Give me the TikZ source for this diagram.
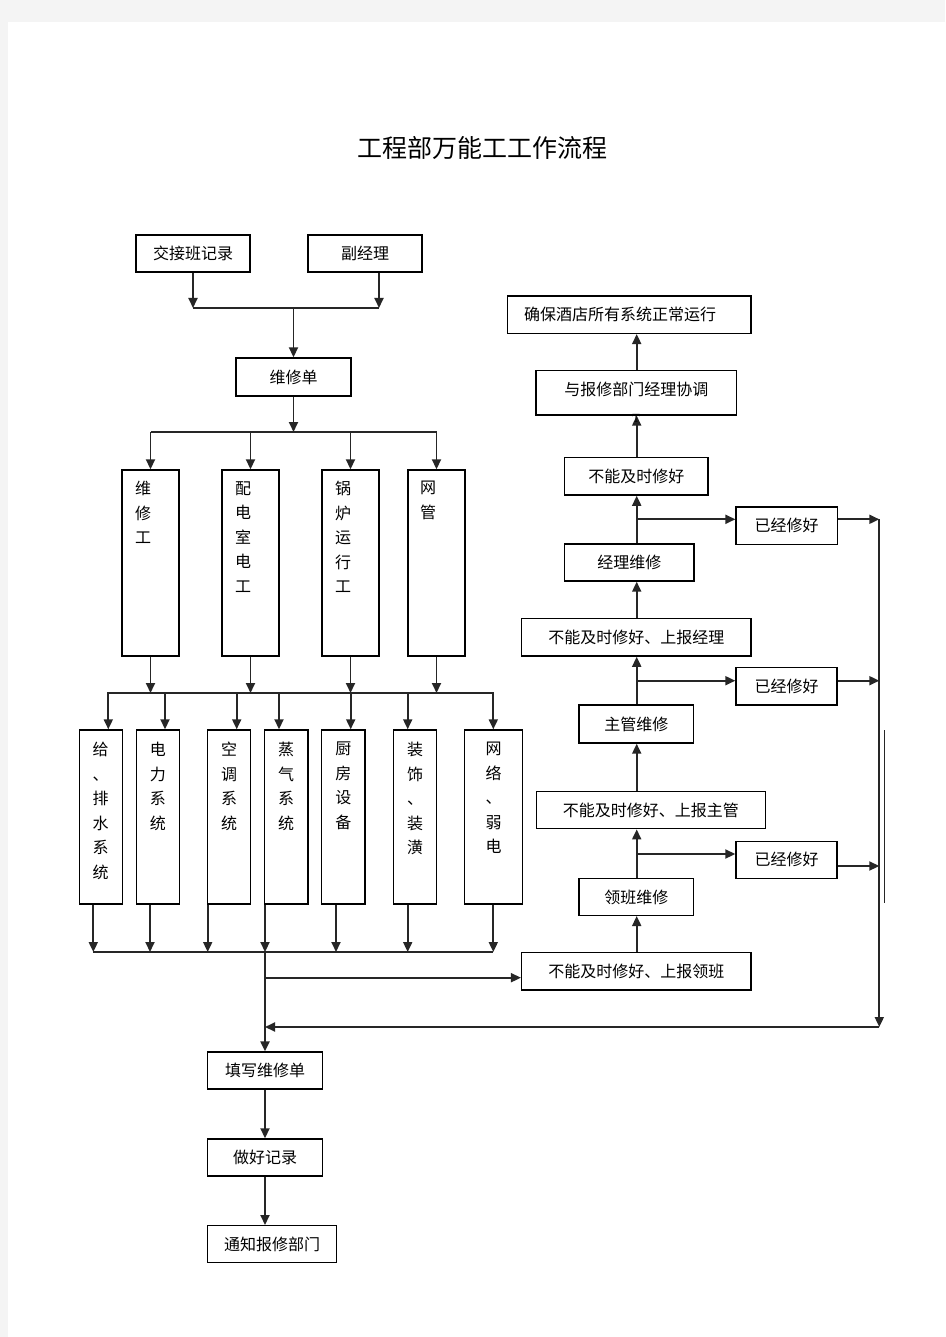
\documentclass[tikz,border=0pt]{standalone}
\usepackage{fontspec}
\newfontfamily\cjk{Noto Sans CJK SC}
\usetikzlibrary{arrows.meta,calc}
\definecolor{bg}{HTML}{F4F4F4}
\begin{document}
\begin{tikzpicture}[x=1pt,y=-1pt,
  box/.style={draw, line width=1.4pt, inner sep=0pt, font=\cjk\fontsize{16}{19}\selectfont},
  vtext/.style={font=\cjk\fontsize{16}{24.5}\selectfont, align=center, inner sep=0pt, anchor=north},
  conn/.style={line width=1.8pt, draw=black!85},
  arr/.style={conn, -{Triangle[length=10pt,width=9pt]}},
  thin/.style={line width=1pt, draw=black!85}]
\useasboundingbox (0,0) rectangle (945,1337);
\fill[bg] (0,0) rectangle (945,1337);
\fill[white] (8,22) rectangle (945,1337);

% title
\node[font=\cjk\fontsize{25}{28}\selectfont] (title) at (482,148) {工程部万能工工作流程};

% top boxes
\node[box, minimum width=114pt, minimum height=37pt] (jjb) at (193,253.5) {交接班记录};
\node[box, minimum width=114pt, minimum height=37pt] (fjl) at (365,253.5) {副经理};
\node[box, minimum width=115pt, minimum height=38pt] (wxd) at (293.5,377) {维修单};

\coordinate (j1) at (193,308);
\coordinate (j2) at (379,308);
\coordinate (j0) at (293.5,308);
\draw[arr] (jjb.south) -- (j1);
\draw[arr] (fjl.south -| j2) -- (j2);
\draw[conn] (j1) -- (j2);
\draw[arr] (j0) -- (wxd.north);

% worker boxes
\node[box, minimum width=57pt, minimum height=186pt] (v1) at (150.5,563) {};
\node[box, minimum width=57pt, minimum height=186pt] (v2) at (250.5,563) {};
\node[box, minimum width=57pt, minimum height=186pt] (v3) at (350.5,563) {};
\node[box, minimum width=57pt, minimum height=186pt] (v4) at (436.5,563) {};
\node[vtext] (t1) at (143,481) {维\\修\\工};
\node[vtext] (t2) at (243,481) {配\\电\\室\\电\\工};
\node[vtext] (t3) at (343,481) {锅\\炉\\运\\行\\工};
\node[vtext] (t4) at (428,481) {网\\管};

\coordinate (k0) at (293.5,432);
\draw[arr] (wxd.south) -- (k0);
\draw[conn] (v1.north |- k0) -- (v4.north |- k0);
\foreach \v in {v1,v2,v3,v4} \draw[arr] (\v.north |- k0) -- (\v.north);

% system boxes
\node[box, minimum width=43pt, minimum height=174pt] (b1) at (100.8,817) {};
\node[box, minimum width=43pt, minimum height=174pt] (b2) at (157.8,817) {};
\node[box, minimum width=43pt, minimum height=174pt] (b3) at (229.2,817) {};
\node[box, minimum width=43.3pt, minimum height=174pt] (b4) at (286.3,817) {};
\node[box, minimum width=43.3pt, minimum height=174pt] (b5) at (343.3,817) {};
\node[box, minimum width=43.4pt, minimum height=174pt] (b6) at (415,817) {};
\node[box, minimum width=57.6pt, minimum height=174pt] (b7) at (493.5,817) {};
\node[vtext] (s1) at (100.5,742) {给\\、\\排\\水\\系\\统};
\node[vtext] (s2) at (157.8,742) {电\\力\\系\\统};
\node[vtext] (s3) at (229.2,742) {空\\调\\系\\统};
\node[vtext] (s4) at (286,742) {蒸\\气\\系\\统};
\node[vtext] (s5) at (343.3,742) {厨\\房\\设\\备};
\node[vtext] (s6) at (415,742) {装\\饰\\、\\装\\潢};
\node[vtext] (s7) at (493.5,742) {网\\络\\、\\弱\\电};

\coordinate (h) at (0,693);
\foreach \v in {v1,v2,v3,v4} \draw[arr] (\v.south) -- (\v.south |- h);
\draw[conn] (107,693) -- (494,693);
\foreach \b/\x in {b1/108.3,b2/165,b3/236.7,b4/279,b5/350.7,b6/407.7,b7/493.3}
  \draw[arr] (\x,693) -- (\b.north -| \x,0);

% lower bus
\foreach \b/\x in {b1/93.3,b2/150,b3/207.7,b5/336,b6/407.7,b7/493.3}
  \draw[arr] (\b.south -| \x,0) -- (\x,952);
\draw[conn] (93.3,952) -- (493.3,952);

% bottom chain
\node[box, minimum width=115.4pt, minimum height=37pt] (tx) at (265,1070.5) {填写维修单};
\node[box, minimum width=115.4pt, minimum height=37pt] (zh) at (265,1157.5) {做好记录};
\node[box, minimum width=129.4pt, minimum height=37pt] (tz) at (272,1244.2) {通知报修部门};

\coordinate (tr1) at (265,952);
\coordinate (tr2) at (265,977.7);
\coordinate (tr3) at (265,1027);
\draw[arr, line width=2.2pt] (b4.south -| tr1) -- (tr1);
\draw[arr, line width=2.2pt] (tr1) -- (tx.north);
\draw[arr] (tx.south) -- (zh.north);
\draw[arr] (zh.south) -- (tz.north -| zh.south);

% right column
\node[box, minimum width=243.7pt, minimum height=37.3pt, label={[font=\cjk\fontsize{16}{19}\selectfont, xshift=-9pt]center:确保酒店所有系统正常运行}] (qb) at (629.2,314.7) {};
\node[box, minimum width=200.7pt, minimum height=44.3pt, label={[font=\cjk\fontsize{16}{19}\selectfont, yshift=3pt]center:与报修部门经理协调}] (yb) at (636.3,392.8) {};
\node[box, minimum width=143.3pt, minimum height=37.7pt] (bn) at (636.3,476.2) {不能及时修好};
\node[box, minimum width=129.3pt, minimum height=37pt] (jl) at (629.3,562.5) {经理维修};
\node[box, minimum width=229.3pt, minimum height=37.7pt] (bnj) at (636.3,637.2) {不能及时修好、上报经理};
\node[box, minimum width=114.7pt, minimum height=38pt] (zg) at (636.3,724) {主管维修};
\node[box, minimum width=229pt, minimum height=37pt] (bnz) at (650.8,810.2) {不能及时修好、上报主管};
\node[box, minimum width=114.7pt, minimum height=36.6pt] (lb) at (636.3,897) {领班维修};
\node[box, minimum width=229.3pt, minimum height=37.3pt] (bnl) at (636.3,971.3) {不能及时修好、上报领班};
\node[box, minimum width=101.3pt, minimum height=37.3pt] (y1) at (786.7,525.7) {已经修好};
\node[box, minimum width=101pt, minimum height=37.3pt] (y2) at (786.5,686.3) {已经修好};
\node[box, minimum width=101pt, minimum height=37pt] (y3) at (786.5,859.8) {已经修好};

\coordinate (sp) at (636.7,0);
\draw[arr] (bnl.north -| sp) -- (lb.south -| sp);
\draw[arr] (lb.north -| sp) -- (bnz.south -| sp);
\draw[arr] (bnz.north -| sp) -- (zg.south -| sp);
\draw[arr] (zg.north -| sp) -- (bnj.south -| sp);
\draw[arr] (bnj.north -| sp) -- (jl.south -| sp);
\draw[arr] (jl.north -| sp) -- (bn.south -| sp);
\draw[arr] (bn.north -| sp) -- (yb.south -| sp);
\draw[arr] (yb.north -| sp) -- (qb.south -| sp);

\draw[arr] (636.7,519.3) -- (y1.west |- 0,519.3);
\draw[arr] (636.7,680.7) -- (y2.west |- 0,680.7);
\draw[arr] (636.7,854) -- (y3.west |- 0,854);

\draw[arr] (y1.east |- 0,519.3) -- (879.3,519.3);
\draw[arr] (y2.east |- 0,680.7) -- (879.3,680.7);
\draw[arr] (y3.east |- 0,866) -- (879.3,866);
\coordinate (rb) at (879.3,1027);
\draw[arr] (879.3,519.3) -- (rb);
\draw[arr] (rb) -- (tr3);
\draw[arr] (tr2) -- (bnl.west |- tr2);
\draw[thin] (884.3,730) -- (884.3,903.3);
\node[font=\fontsize{12}{13}\selectfont, inner sep=0pt, text=black] (tt) at (636,418) {T};
\end{tikzpicture}
\end{document}
